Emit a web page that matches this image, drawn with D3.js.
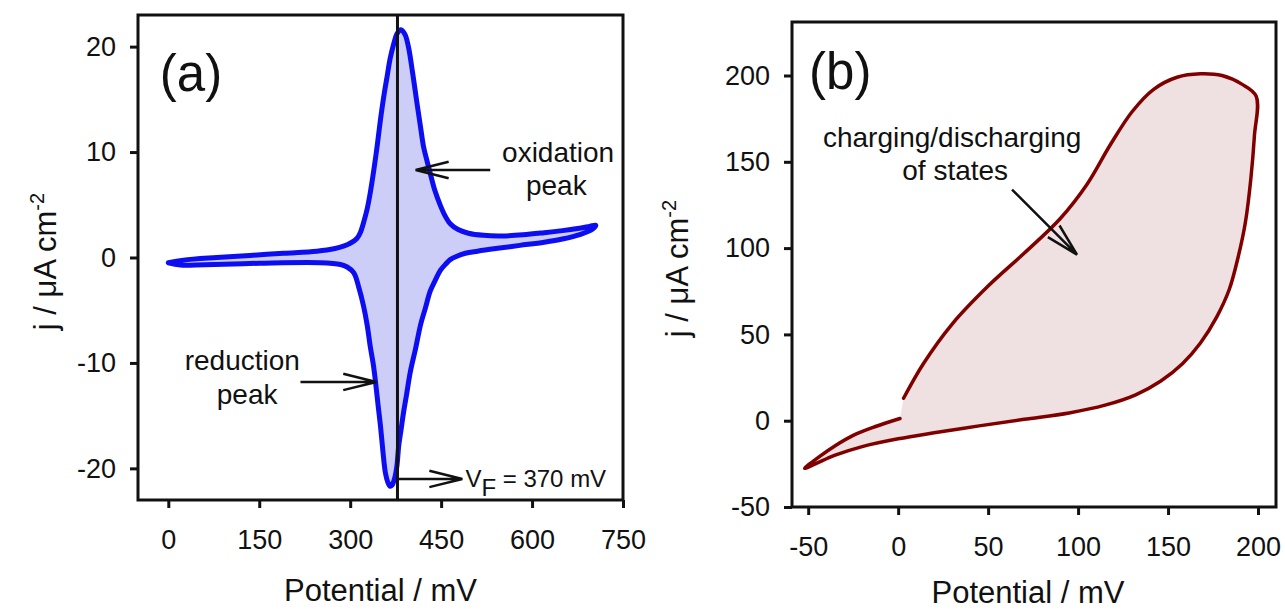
<!DOCTYPE html>
<html>
<head>
<meta charset="utf-8">
<script src="https://cdn.jsdelivr.net/npm/d3@7"></script>
<style>
  body { margin: 0; background: #fff; }
  svg { font-family: 'Liberation Sans', Arial, sans-serif; }
</style>
</head>
<body>
<svg id="chart" width="1285" height="611"></svg>
<script>
// ---- data: panel (a), cyclic voltammogram [potential mV, j uA/cm2] ----
const cvForward = [
  [0, -0.5], [25, -0.25], [80, 0], [135, 0.2], [190, 0.4], [245, 0.6], [275, 0.85],
  [289, 1.07], [300, 1.35], [311, 1.8], [317, 2.4], [322, 3.3], [328, 4.6], [333, 6.1],
  [339, 8.3], [345, 10.8], [350, 13.1], [356, 15.5], [361, 17.2], [366, 18.9], [372, 20.3],
  [377, 21.2], [383, 21.6], [390, 21.2], [396, 20.0], [403, 17.5], [410, 14.7], [416, 12.4],
  [421, 10.5], [427, 9.1], [432, 8.0], [440, 6.3], [449, 4.9], [457, 3.9], [465, 3.2],
  [478, 2.65], [495, 2.3], [520, 2.1], [550, 2.05], [585, 2.15], [620, 2.35], [650, 2.55],
  [675, 2.75], [695, 2.95], [705, 3.05]
]
const cvReverse = [
  [700, 2.7], [680, 2.2], [650, 1.75], [620, 1.45], [580, 1.15], [540, 0.85], [510, 0.6],
  [490, 0.4], [475, 0.1], [465, -0.2], [458, -0.6], [449, -1.2], [440, -2.2], [432, -3.2],
  [424, -4.8], [416, -6.4], [408, -8.6], [399, -10.9], [393, -13.0], [388, -14.7], [384, -16.3],
  [380, -17.9], [377, -19.8], [373, -21.0], [369, -21.6], [366, -21.7], [362, -21.3], [358, -20.4],
  [354, -18.4], [350, -16.0], [346, -14.0], [342, -11.9], [338, -10.1], [333, -8.4], [328, -6.4],
  [322, -4.6], [314, -2.8], [306, -1.45], [295, -0.9], [284, -0.66], [250, -0.5], [150, -0.55],
  [60, -0.68], [20, -0.72], [0, -0.5]
]
const vFormal = 378
const vFormalLabel = ' = 370 mV'
const aTicksX = [0, 150, 300, 450, 600, 750]
const aTicksY = [-20, -10, 0, 10, 20]

// ---- data: panel (b), charging loop ----
const chargeUpper = [
  [3, 13], [14, 33], [30, 56], [50, 78], [70, 97], [90, 117], [105, 137], [118, 160],
  [130, 179], [142, 192], [155, 199], [168, 201], [180, 200], [191, 195], [199, 188]
]
const chargeLower = [
  [198, 165], [196, 140], [193, 115], [189, 95], [184, 76], [177, 60], [168, 45], [158, 33],
  [146, 23], [132, 15], [115, 9], [95, 4.5], [70, 0.8], [45, -3], [20, -7], [0, -10.5],
  [-20, -15], [-35, -20], [-46, -25], [-52, -27.6]
]
const chargeReturn = [[-44, -21], [-35, -14.5], [-25, -8.5], [-13, -3.5], [1, 1.3]]
const bTicksX = [-50, 0, 50, 100, 150, 200]
const bTicksY = [-50, 0, 50, 100, 150, 200]

const svg = d3.select('#chart')

function makePanel(cfg) {
  const x = d3.scaleLinear().domain(cfg.xDomain).range([cfg.left, cfg.right])
  const y = d3.scaleLinear().domain(cfg.yDomain).range([cfg.bottom, cfg.top])
  const g = svg.append('g')

  const line = d3.line().x(d => x(d[0])).y(d => y(d[1])).curve(d3.curveCatmullRom.alpha(0.5))

  g.append('path')
    .attr('d', line(cfg.points) + 'Z')
    .attr('fill', cfg.fill)
    .attr('stroke', 'none')

  g.append('path')
    .attr('d', line(cfg.points) + (cfg.closeStroke ? 'Z' : ''))
    .attr('fill', 'none')
    .attr('stroke', cfg.stroke)
    .attr('stroke-width', cfg.strokeWidth)
    .attr('stroke-linejoin', 'round')
    .attr('stroke-linecap', 'round')

  const fmt = d => String(d)
  const xAxis = g.append('g')
    .attr('transform', `translate(0,${cfg.bottom})`)
    .call(d3.axisBottom(x).tickValues(cfg.xTicks).tickFormat(fmt).tickSize(8).tickPadding(22).tickSizeOuter(0))
  const yAxis = g.append('g')
    .attr('transform', `translate(${cfg.left},0)`)
    .call(d3.axisLeft(y).tickValues(cfg.yTicks).tickFormat(fmt).tickSize(8).tickPadding(14).tickSizeOuter(0))

  ;[xAxis, yAxis].forEach(a => {
    a.select('.domain').remove()
    a.selectAll('line').attr('stroke', '#111').attr('stroke-width', 3)
    a.selectAll('text').attr('font-size', 27).attr('fill', '#111')
      .attr('font-family', "'Liberation Sans', Arial, sans-serif")
  })

  g.append('rect')
    .attr('x', cfg.left).attr('y', cfg.top)
    .attr('width', cfg.right - cfg.left).attr('height', cfg.bottom - cfg.top)
    .attr('fill', 'none').attr('stroke', '#111').attr('stroke-width', 3)

  // axis titles
  g.append('text')
    .attr('x', (cfg.left + cfg.right) / 2 + cfg.xTitleShift).attr('y', cfg.xTitleY)
    .attr('text-anchor', 'middle').attr('font-size', 31).attr('fill', '#111')
    .text('Potential / mV')

  const yt = g.append('text')
    .attr('transform', `translate(${cfg.yTitleX},${(cfg.top + cfg.bottom) / 2 + 4}) rotate(-90)`)
    .attr('text-anchor', 'middle').attr('font-size', 31).attr('fill', '#111')
  yt.append('tspan').text('j / \u03bcA cm')
  yt.append('tspan').attr('dy', -12).attr('font-size', 20).text('-2')

  g.append('text')
    .attr('x', x(cfg.tag[0])).attr('y', y(cfg.tag[1]))
    .attr('font-size', 51).attr('fill', '#111')
    .text(cfg.tag[2])

  return {g, x, y}
}

function arrow(g, x1, y1, x2, y2) {
  const ang = Math.atan2(y2 - y1, x2 - x1)
  const L = 34, h = 14 * Math.PI / 180
  const b1 = [x2 - L * Math.cos(ang - h), y2 - L * Math.sin(ang - h)]
  const b2 = [x2 - L * Math.cos(ang + h), y2 - L * Math.sin(ang + h)]
  g.append('path')
    .attr('d', `M${x1},${y1}L${x2},${y2}M${b1[0]},${b1[1]}L${x2},${y2}L${b2[0]},${b2[1]}`)
    .attr('fill', 'none').attr('stroke', '#111').attr('stroke-width', 2.5)
}

function label(g, x, y, lines, size) {
  lines.forEach(l => {
    g.append('text')
      .attr('x', x(l[0])).attr('y', y(l[1]))
      .attr('text-anchor', 'middle').attr('font-size', size).attr('fill', '#111')
      .text(l[2])
  })
}

// ---- panel (a) ----
const A = makePanel({
  left: 138, right: 623, top: 15, bottom: 500,
  xDomain: [-50, 750], yDomain: [-23, 23],
  xTicks: aTicksX, yTicks: aTicksY,
  points: cvForward.concat(cvReverse), closeStroke: true,
  fill: '#cdcef7', stroke: '#0d0df2', strokeWidth: 5,
  xTitleShift: 0, xTitleY: 601, yTitleX: 56,
  tag: [-14, 15.8, '(a)']
})
A.g.append('line')
  .attr('x1', A.x(vFormal)).attr('x2', A.x(vFormal))
  .attr('y1', A.y(23)).attr('y2', A.y(-23))
  .attr('stroke', '#111').attr('stroke-width', 3)

arrow(A.g, A.x(531), A.y(8.3), A.x(408), A.y(8.3))
label(A.g, A.x, A.y, [[643, 9.1, 'oxidation'], [640, 5.95, 'peak']], 28)
arrow(A.g, A.x(218), A.y(-11.8), A.x(343), A.y(-11.8))
label(A.g, A.x, A.y, [[122, -10.7, 'reduction'], [130, -13.9, 'peak']], 28)
arrow(A.g, A.x(vFormal), A.y(-21.0), A.x(485), A.y(-21.0))
const vf = A.g.append('text')
  .attr('x', A.x(490)).attr('y', A.y(-21.75))
  .attr('font-size', 24).attr('fill', '#111')
vf.append('tspan').text('V')
vf.append('tspan').attr('dy', 9).text('F')
vf.append('tspan').attr('dy', -9).text(vFormalLabel)

// ---- panel (b) ----
const B = makePanel({
  left: 792, right: 1276, top: 22, bottom: 507,
  xDomain: [-59, 210], yDomain: [-50, 231],
  xTicks: bTicksX, yTicks: bTicksY,
  points: chargeUpper.concat(chargeLower, chargeReturn), closeStroke: false,
  fill: '#efe0e1', stroke: '#800000', strokeWidth: 3.5,
  xTitleShift: -6, xTitleY: 603, yTitleX: 688,
  tag: [-49.5, 192, '(b)']
})
label(B.g, B.x, B.y, [[30, 158.8, 'charging/discharging'], [31.7, 139.7, 'of states']], 28)
arrow(B.g, B.x(63.3), B.y(133.9), B.x(99.4), B.y(96.2))
</script>
</body>
</html>
